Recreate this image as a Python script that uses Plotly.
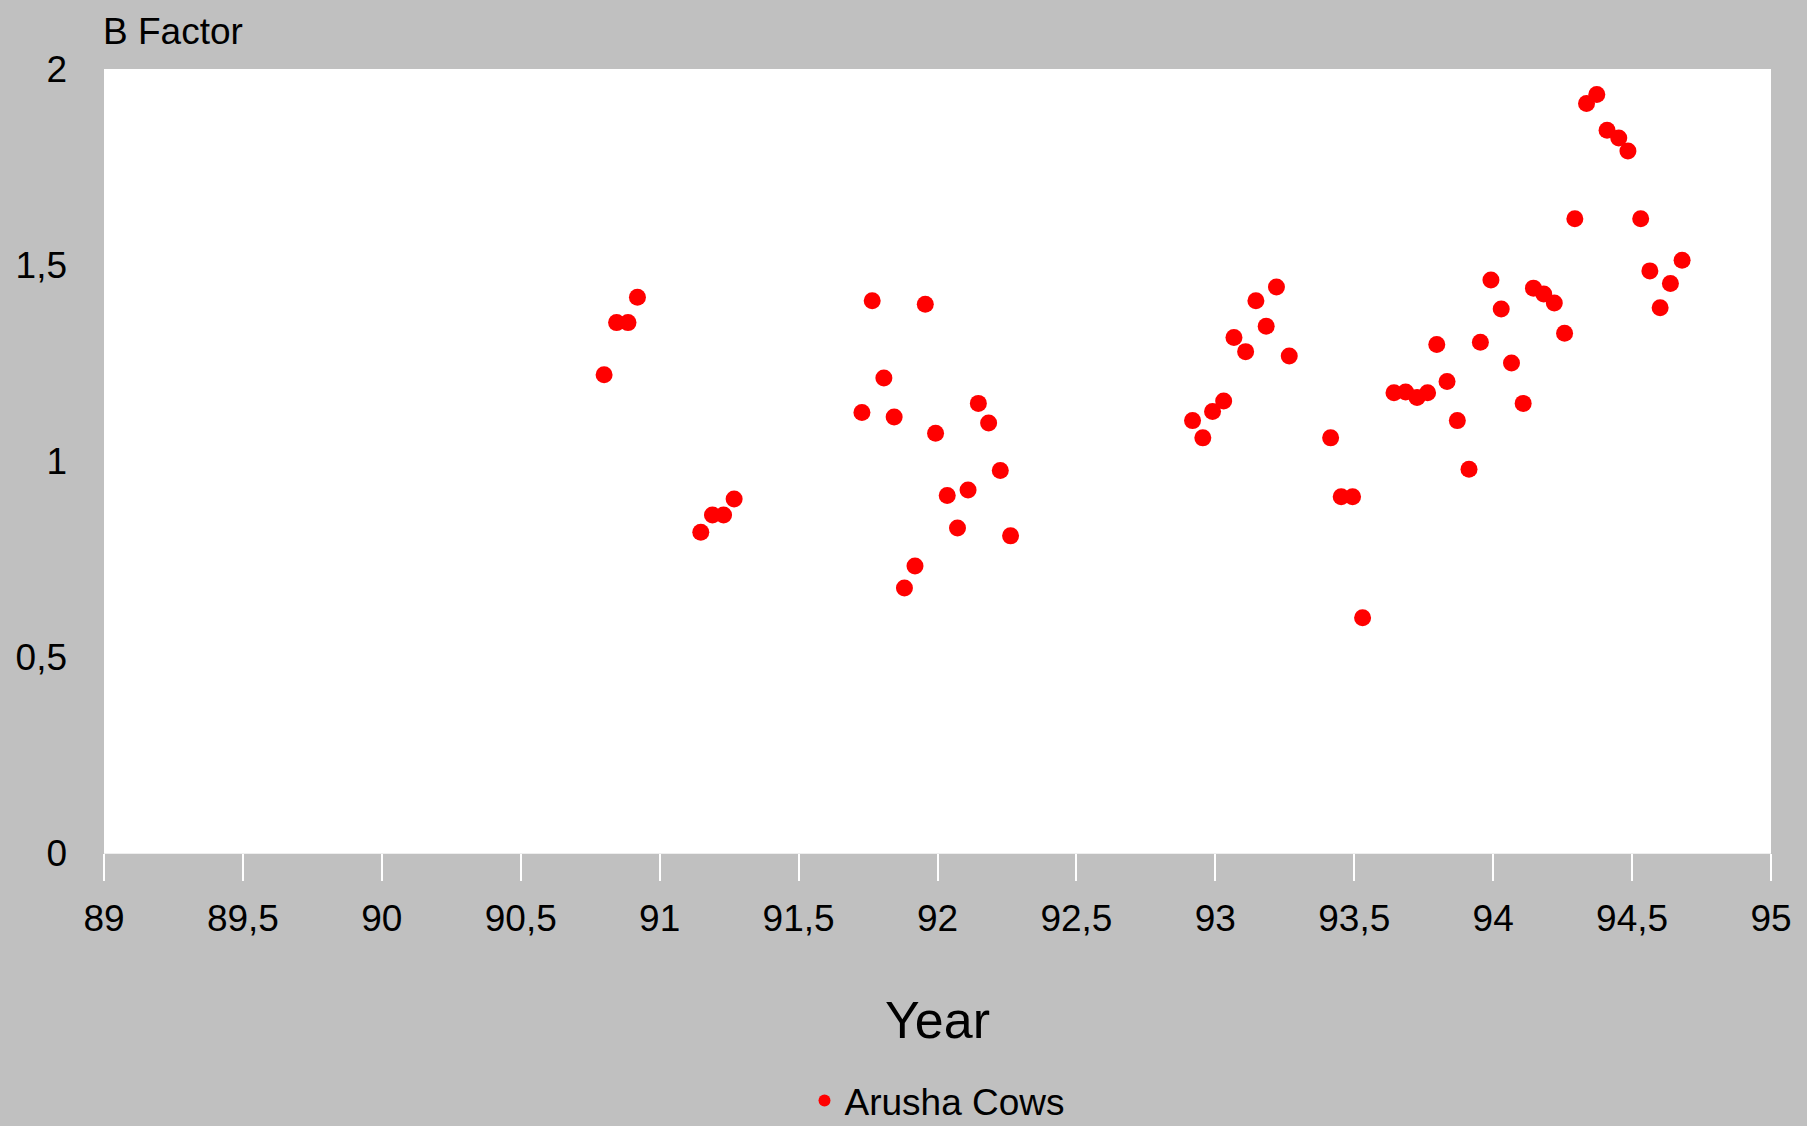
import plotly.graph_objects as go

year = [90.80, 90.845, 90.886, 90.92,
        91.148, 91.19, 91.23, 91.268,
        91.728, 91.765, 91.807, 91.844, 91.881, 91.919, 91.956, 91.993,
        92.035, 92.072, 92.11, 92.147, 92.184, 92.226, 92.263,
        92.918, 92.955, 92.99, 93.03, 93.067, 93.109, 93.146, 93.183, 93.22, 93.266,
        93.415, 93.453, 93.494, 93.53,
        93.643, 93.685, 93.726, 93.764, 93.797, 93.834, 93.871, 93.913, 93.954,
        93.992, 94.029, 94.066, 94.108, 94.145, 94.182, 94.22, 94.257, 94.294,
        94.336, 94.373, 94.41, 94.452, 94.485, 94.531, 94.564, 94.601, 94.638, 94.68]
b_factor = [1.22, 1.353, 1.353, 1.418,
            0.818, 0.862, 0.862, 0.903,
            1.124, 1.409, 1.212, 1.112, 0.676, 0.732, 1.40, 1.071,
            0.912, 0.829, 0.926, 1.147, 1.097, 0.976, 0.809,
            1.103, 1.059, 1.126, 1.153, 1.315, 1.279, 1.409, 1.344, 1.444, 1.268,
            1.059, 0.909, 0.909, 0.60,
            1.174, 1.176, 1.162, 1.174, 1.297, 1.203, 1.103, 0.979, 1.303,
            1.462, 1.388, 1.25, 1.147, 1.441, 1.426, 1.403, 1.326, 1.618,
            1.912, 1.935, 1.844, 1.824, 1.791, 1.618, 1.485, 1.391, 1.453, 1.512]

x_tickvals = [89, 89.5, 90, 90.5, 91, 91.5, 92, 92.5, 93, 93.5, 94, 94.5, 95]
x_ticktext = ["89", "89,5", "90", "90,5", "91", "91,5", "92", "92,5", "93", "93,5", "94", "94,5", "95"]
y_tickvals = [0, 0.5, 1, 1.5, 2]
y_ticktext = ["0", "0,5", "1", "1,5", "2"]

FONT = "Liberation Sans, Arial, Helvetica, sans-serif"

fig = go.Figure()
fig.add_trace(go.Scatter(
    x=year, y=b_factor, mode="markers", name="Arusha Cows",
    marker=dict(color="#ff0000", size=17, line=dict(width=0)),
))

fig.update_layout(
    width=1807, height=1126,
    paper_bgcolor="#c0c0c0", plot_bgcolor="#ffffff",
    margin=dict(l=104, r=36, t=69, b=273, autoexpand=False),
    font=dict(family=FONT, size=37, color="#000000"),
    showlegend=True,
    legend=dict(orientation="h", x=0.5, xanchor="center",
                yref="container", y=1 - 1101 / 1126, yanchor="middle",
                bgcolor="rgba(0,0,0,0)", font=dict(size=37), itemsizing="constant"),
    xaxis=dict(range=[89, 95], tickvals=x_tickvals, ticktext=x_ticktext,
               showgrid=False, zeroline=False, showline=True, linecolor="#eeeeee", linewidth=1,
               ticks="outside", ticklen=27, tickcolor="#ffffff", tickwidth=2,
               ticklabelstandoff=6, automargin=False,
               title=dict(text="Year", font=dict(size=52), standoff=63),
               tickfont=dict(size=37)),
    yaxis=dict(range=[0, 2], tickvals=y_tickvals, ticktext=y_ticktext,
               showgrid=False, zeroline=False, showline=False, automargin=False,
               ticks="", ticklabelstandoff=36, tickfont=dict(size=37)),
    annotations=[dict(text="B Factor", xref="paper", yref="paper", x=-0.002, y=1.048,
                      xanchor="left", yanchor="middle", showarrow=False,
                      font=dict(size=37, family=FONT))],
)

fig.write_html("out.html", config={"displayModeBar": False},
               post_script="document.body.style.margin='0px';")
